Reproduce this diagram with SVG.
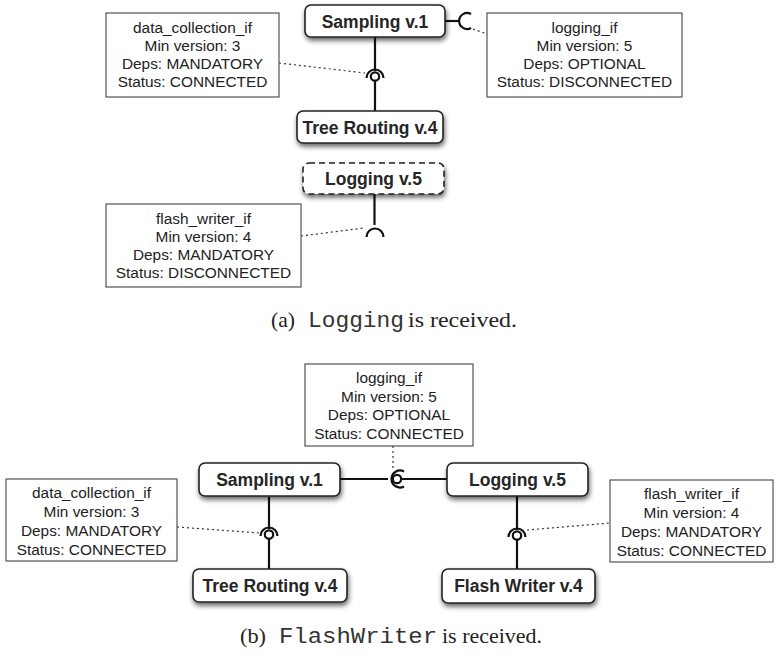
<svg xmlns="http://www.w3.org/2000/svg" width="778" height="664" viewBox="0 0 778 664">
<defs>
<filter id="sh" x="-20%" y="-30%" width="140%" height="170%">
<feDropShadow dx="1" dy="3" stdDeviation="2.5" flood-color="#000" flood-opacity="0.6"/>
</filter>
<style>
.node{fill:#fff;stroke:#222;stroke-width:1.6;filter:url(#sh)}
.dash{stroke-dasharray:6 4}
.nl{font-family:"Liberation Sans",Arial,sans-serif;font-weight:bold;font-size:17.5px;fill:#262626;text-anchor:middle}
.ib{fill:#fff;stroke:#444;stroke-width:1.1}
.it{font-family:"Liberation Sans",Arial,sans-serif;font-size:15.4px;fill:#222;text-anchor:middle}
.ln{stroke:#111;stroke-width:2.2;fill:none}
.dot{stroke:#333;stroke-width:1.2;stroke-dasharray:2 3;fill:none}
.ball{fill:#fff;stroke:#111;stroke-width:2.2}
.cap{font-family:"Liberation Serif","Times New Roman",serif;font-size:22px;fill:#222}
.mono{font-family:"Liberation Mono","Courier New",monospace;font-size:22px;fill:#333}
</style>
</defs>

<g id="connectors">
<!-- (a) -->
<line class="ln" x1="375" y1="37" x2="375" y2="71"/>
<line class="ln" x1="375" y1="81" x2="375" y2="111"/>
<path class="ln" d="M366.5,78 A8.5,8.5 0 1 1 383.5,78"/>
<circle class="ball" cx="375" cy="76.5" r="4.2"/>
<line class="dot" x1="279" y1="63" x2="365" y2="73"/>
<line class="ln" x1="445" y1="21" x2="458.5" y2="21"/>
<path class="ln" d="M471,14 A8,8 0 1 0 471,28"/>
<line class="dot" x1="473" y1="29" x2="487" y2="34"/>
<line class="ln" x1="374.5" y1="194" x2="374.5" y2="225"/>
<path class="ln" d="M366.5,237 A8.5,8.5 0 1 1 383.5,237"/>
<line class="dot" x1="301" y1="236" x2="364" y2="228"/>
<!-- (b) -->
<line class="ln" x1="340" y1="479" x2="388" y2="479"/>
<line class="ln" x1="401" y1="479" x2="447" y2="479"/>
<path class="ln" d="M404,471.5 A8.5,8.5 0 1 0 404,486.5"/>
<circle class="ball" cx="397" cy="479" r="4.2"/>
<line class="dot" x1="393" y1="446" x2="393" y2="469"/>
<line class="ln" x1="269" y1="497" x2="269" y2="529"/>
<line class="ln" x1="269" y1="539" x2="269" y2="569"/>
<path class="ln" d="M260.5,536 A8.5,8.5 0 1 1 277.5,536"/>
<circle class="ball" cx="269" cy="534.5" r="4.2"/>
<line class="dot" x1="177" y1="527" x2="260" y2="533"/>
<line class="ln" x1="517" y1="496" x2="517" y2="530"/>
<line class="ln" x1="517" y1="540" x2="517" y2="569"/>
<path class="ln" d="M508.5,537 A8.5,8.5 0 1 1 525.5,537"/>
<circle class="ball" cx="517" cy="535.5" r="4.2"/>
<line class="dot" x1="527" y1="530" x2="610" y2="523"/>
</g>

<!-- (a) nodes -->
<g id="a-sampling">
<rect class="node" x="305" y="5" width="140" height="32" rx="6"/>
<text class="nl" x="375" y="27.5">Sampling v.1</text>
</g>
<g id="a-treerouting">
<rect class="node" x="297" y="111" width="146" height="32" rx="6"/>
<text class="nl" x="370" y="133.5">Tree Routing v.4</text>
</g>
<g id="a-logging">
<rect class="node dash" x="303" y="163" width="141" height="31" rx="6"/>
<text class="nl" x="373.5" y="185">Logging v.5</text>
</g>
<g id="a-data-collection-if">
<rect class="ib" x="106" y="13" width="173" height="84"/>
<text class="it" x="192.5" y="33">data_collection_if</text>
<text class="it" x="192.5" y="51">Min version: 3</text>
<text class="it" x="192.5" y="69">Deps: MANDATORY</text>
<text class="it" x="192.5" y="87">Status: CONNECTED</text>
</g>
<g id="a-logging-if">
<rect class="ib" x="487" y="13" width="195" height="84"/>
<text class="it" x="584.5" y="33">logging_if</text>
<text class="it" x="584.5" y="51">Min version: 5</text>
<text class="it" x="584.5" y="69">Deps: OPTIONAL</text>
<text class="it" x="584.5" y="87">Status: DISCONNECTED</text>
</g>
<g id="a-flash-writer-if">
<rect class="ib" x="106" y="204" width="195" height="83"/>
<text class="it" x="203.5" y="224">flash_writer_if</text>
<text class="it" x="203.5" y="242">Min version: 4</text>
<text class="it" x="203.5" y="260">Deps: MANDATORY</text>
<text class="it" x="203.5" y="278">Status: DISCONNECTED</text>
</g>
<g id="caption-a">
<text class="cap" x="271" y="327" textLength="24" lengthAdjust="spacingAndGlyphs">(a)</text>
<text class="mono" x="308" y="327" textLength="96" lengthAdjust="spacingAndGlyphs">Logging</text>
<text class="cap" x="408" y="327" textLength="109" lengthAdjust="spacingAndGlyphs">is received.</text>
</g>

<!-- (b) nodes -->
<g id="b-sampling">
<rect class="node" x="199" y="463" width="141" height="33" rx="6"/>
<text class="nl" x="269.5" y="486">Sampling v.1</text>
</g>
<g id="b-treerouting">
<rect class="node" x="193" y="569" width="154" height="33" rx="6"/>
<text class="nl" x="270" y="592">Tree Routing v.4</text>
</g>
<g id="b-logging">
<rect class="node" x="447" y="463" width="141" height="33" rx="6"/>
<text class="nl" x="517.5" y="486">Logging v.5</text>
</g>
<g id="b-flashwriter">
<rect class="node" x="442" y="569" width="153" height="34" rx="6"/>
<text class="nl" x="518.5" y="592">Flash Writer v.4</text>
</g>
<g id="b-logging-if">
<rect class="ib" x="305" y="364" width="168" height="82"/>
<text class="it" x="389" y="383">logging_if</text>
<text class="it" x="389" y="401.5">Min version: 5</text>
<text class="it" x="389" y="420">Deps: OPTIONAL</text>
<text class="it" x="389" y="438.5">Status: CONNECTED</text>
</g>
<g id="b-data-collection-if">
<rect class="ib" x="6" y="479" width="171" height="82"/>
<text class="it" x="91.5" y="498">data_collection_if</text>
<text class="it" x="91.5" y="517">Min version: 3</text>
<text class="it" x="91.5" y="536">Deps: MANDATORY</text>
<text class="it" x="91.5" y="555">Status: CONNECTED</text>
</g>
<g id="b-flash-writer-if">
<rect class="ib" x="610" y="480" width="163" height="82"/>
<text class="it" x="691.5" y="499">flash_writer_if</text>
<text class="it" x="691.5" y="518">Min version: 4</text>
<text class="it" x="691.5" y="537">Deps: MANDATORY</text>
<text class="it" x="691.5" y="556">Status: CONNECTED</text>
</g>
<g id="caption-b">
<text class="cap" x="240" y="643" textLength="26" lengthAdjust="spacingAndGlyphs">(b)</text>
<text class="mono" x="279" y="643" textLength="158" lengthAdjust="spacingAndGlyphs">FlashWriter</text>
<text class="cap" x="442" y="643" textLength="100" lengthAdjust="spacingAndGlyphs">is received.</text>
</g>
</svg>
